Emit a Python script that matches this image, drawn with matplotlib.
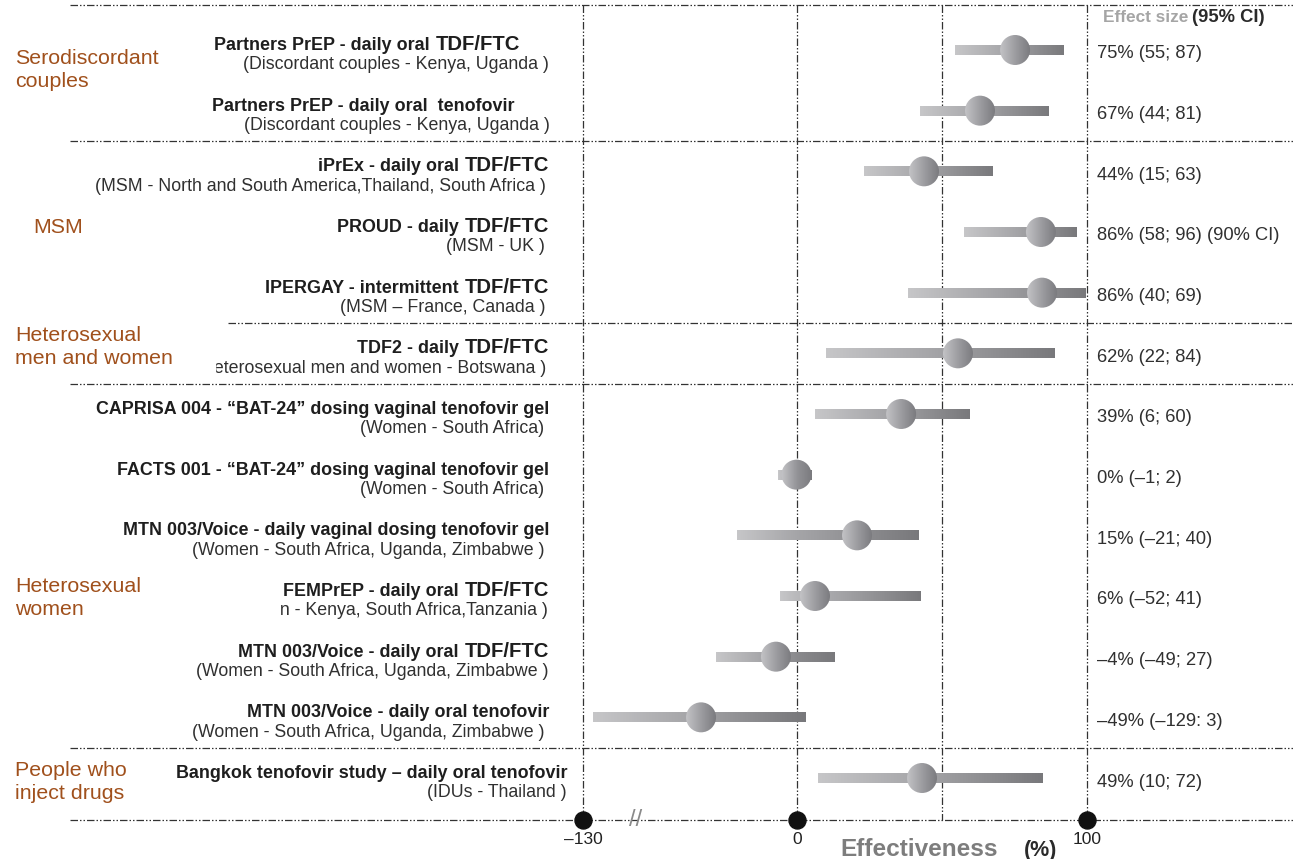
import numpy as np
import matplotlib
matplotlib.use('Agg')
import matplotlib.pyplot as plt
from matplotlib.colors import LinearSegmentedColormap
from matplotlib.patches import Circle, Rectangle
from matplotlib.transforms import ScaledTranslation, blended_transform_factory

plt.rcParams['font.family'] = ['Liberation Sans', 'DejaVu Sans']

# ---- data (drawn positions, broken axis) ----
title_main = ['Partners PrEP - daily oral', 'Partners PrEP - daily oral  tenofovir',
              'iPrEx - daily oral', 'PROUD - daily', 'IPERGAY - intermittent',
              'TDF2 - daily', 'CAPRISA 004 - \u201cBAT-24\u201d dosing vaginal tenofovir gel',
              'FACTS 001 - \u201cBAT-24\u201d dosing vaginal tenofovir gel',
              'MTN 003/Voice - daily vaginal dosing tenofovir gel',
              'FEMPrEP - daily oral', 'MTN 003/Voice - daily oral',
              'MTN 003/Voice - daily oral tenofovir',
              'Bangkok tenofovir study \u2013 daily oral tenofovir']
title_drug = ['TDF/FTC', '', 'TDF/FTC', 'TDF/FTC', 'TDF/FTC', 'TDF/FTC', '', '', '',
              'TDF/FTC', 'TDF/FTC', '', '']
subtitles = ['(Discordant couples - Kenya, Uganda )',
             '(Discordant couples - Kenya, Uganda )',
             '(MSM - North and South America,Thailand, South Africa )',
             '(MSM - UK )',
             '(MSM \u2013 France, Canada )',
             '(Heterosexual men and women - Botswana )',
             '(Women - South Africa)',
             '(Women - South Africa)',
             '(Women - South Africa, Uganda, Zimbabwe )',
             '(Women - Kenya, South Africa,Tanzania )',
             '(Women - South Africa, Uganda, Zimbabwe )',
             '(Women - South Africa, Uganda, Zimbabwe )',
             '(IDUs - Thailand )']
effect_labels = ['75% (55; 87)', '67% (44; 81)', '44% (15; 63)', '86% (58; 96) (90% CI)',
                 '86% (40; 69)', '62% (22; 84)', '39% (6; 60)', '0% (\u20131; 2)',
                 '15% (\u201321; 40)', '6% (\u201352; 41)', '\u20134% (\u201349; 27)',
                 '\u201349% (\u2013129: 3)', '49% (10; 72)']
est = [75.2, 63.1, 43.8, 84.1, 84.5, 55.5, 35.9, -0.3, 20.7, 6.2, -12.8, -58.3, 43.1]
lo = [54.5, 42.4, 23.1, 57.6, 38.3, 10.0, 6.2, -11.5, -36.5, -10.3, -49.2, -124.0, 7.2]
hi = [92.4, 87.2, 67.9, 96.6, 100.0, 89.3, 59.7, 5.5, 42.1, 43.1, 13.4, 3.1, 84.8]

groups = ['Serodiscordant\ncouples', 'MSM', 'Heterosexual\nmen and women',
          'Heterosexual\nwomen', 'People who\ninject drugs']
group_y = [0.33, 2.92, 4.9, 9.03, 12.07]
group_x = [15, 33, 15, 15, 15]

ticks = [-130, 0, 100]
tick_labels = ['\u2013130', '0', '100']
ref_lines = [-130, 0, 50, 100]
separators = [1.5, 5.5, 11.5]
rows = np.arange(len(est))

# ---- broken x scale: left of 0 compressed ----
K = 0.5676


def fwd(x):
    x = np.asarray(x, dtype=float)
    return np.where(x < 0, x * K, x)


def inv(x):
    x = np.asarray(x, dtype=float)
    return np.where(x < 0, x / K, x)


W, H = 1293, 859
fig = plt.figure(figsize=(W / 100, H / 100), dpi=100)
ax = fig.add_axes([0, 0, 1, 1])
ax.set_xscale('function', functions=(fwd, inv))
ax.axis('off')

XLIM = (float(inv(-797 / 2.9)), (W - 797) / 2.9)
YLIM = (13.335, -0.824)

top_y = -0.742
axis_y = 12.69
dash = (0, (6, 1.6, 1.2, 1.6, 1.2, 1.6))
lc = '#333333'

tr = blended_transform_factory(ax.transAxes, ax.transData)

# frame lines
ax.axhline(top_y, xmin=70 / W, xmax=1, color=lc, lw=0.9, ls=dash, zorder=1)
for s in separators:
    ax.axhline(s, xmin=70 / W, xmax=1, color=lc, lw=0.9, ls=dash, zorder=1)
ax.axhline(4.5, xmin=228 / W, xmax=1, color=lc, lw=0.9, ls=dash, zorder=1)
ax.axhline(axis_y, xmin=70 / W, xmax=1, color=lc, lw=0.9, ls=dash, zorder=1)
ax.vlines(ref_lines, top_y, axis_y, color=lc, lw=0.9, linestyles=[dash], zorder=1)

bar_cmap = LinearSegmentedColormap.from_list('bar', ['#c6c6c8', '#a2a2a5', '#78787b'])
dot_cmap = LinearSegmentedColormap.from_list('dot', ['#c4c4c7', '#9c9ca0', '#78787c'])
grad = np.linspace(0, 1, 256)[None, :]

half = 0.085
for y, l, h in zip(rows, lo, hi):
    ax.imshow(grad, cmap=bar_cmap, extent=(l, h, y + half, y - half), aspect='auto',
              interpolation='bilinear', zorder=3)

ax.set_xlim(*XLIM)
ax.set_ylim(*YLIM)

r_px = 15
for y, e in zip(rows, est):
    px, py = ax.transData.transform((e, y))
    (x0, y0), (x1, y1) = ax.transData.inverted().transform([(px - r_px - 1, py - r_px - 1),
                                                             (px + r_px + 1, py + r_px + 1)])
    im = ax.imshow(grad, cmap=dot_cmap, extent=(x0, x1, y0, y1), aspect='auto',
                   interpolation='bilinear', zorder=4)
    circ = Circle((0, 0), r_px / 100, transform=fig.dpi_scale_trans + ScaledTranslation(e, y, ax.transData))
    im.set_clip_path(circ)

ax.set_xlim(*XLIM)
ax.set_ylim(*YLIM)

renderer = fig.canvas.get_renderer()


def right_parts(x_px, y, parts, gap=5):
    # place text pieces right to left so that the last one ends at x_px
    x = x_px / W
    for s, fs, fw, c in reversed(parts):
        t = ax.text(x, y, s, fontsize=fs, fontweight=fw, color=c, ha='right',
                    va='baseline', transform=tr, zorder=6)
        bb = t.get_window_extent(renderer)
        x = (bb.x0 - gap) / W


title_right = [520, 514] + [549] * 10 + [568]
sub_right = [549, 550, 546, 545, 546, 546, 544, 544, 544, 548, 548, 544, 567]
for i in rows:
    parts = [(title_main[i], 12.9, 'bold', '#1e1e1e')]
    if title_drug[i]:
        parts.append((title_drug[i], 14.6, 'bold', '#1e1e1e'))
    right_parts(title_right[i], i, parts, gap=6)
    ax.text(sub_right[i] / W, i + 0.32, subtitles[i], fontsize=12.75, color='#303030',
            ha='right', va='baseline', transform=tr, zorder=2)
    ax.text(1097 / W, i + 0.14, effect_labels[i], fontsize=13.2, color='#303030',
            ha='left', va='baseline', transform=tr, zorder=6)

# white boxes behind the group names (they cut into two subtitles)
ax.add_patch(Rectangle((0, 4.55), 215 / W, 0.9, transform=tr, color='white', zorder=2.5))
ax.add_patch(Rectangle((0, 8.55), 279 / W, 0.95, transform=tr, color='white', zorder=2.5))

for g, gy, gx in zip(groups, group_y, group_x):
    ax.text(gx / W, gy, g, fontsize=15.4, color='#a0501c', ha='left', va='center',
            linespacing=1.25, transform=tr, zorder=6)

# header
right_parts(1265, -0.46, [('Effect size', 12.4, 'bold', '#a5a5a5'),
                          ('(95% CI)', 13.2, 'bold', '#2a2a2a')], gap=4)

# axis ticks
ax.scatter(ticks, [axis_y] * len(ticks), s=150, color='#111111', zorder=6)
for tv, tl in zip(ticks, tick_labels):
    ax.text(tv, axis_y + 0.33, tl, fontsize=12.5, color='#222222', ha='center', va='center', zorder=6)
ax.text(-98, axis_y, '//', fontsize=17, color='#8a8a8a', ha='center', va='center', zorder=6)

right_parts(1057, 13.29, [('Effectiveness', 17.6, 'bold', '#7d7d7d'),
                          ('(%)', 15.5, 'bold', '#2a2a2a')], gap=26)

fig.savefig('out.png', dpi=100)
